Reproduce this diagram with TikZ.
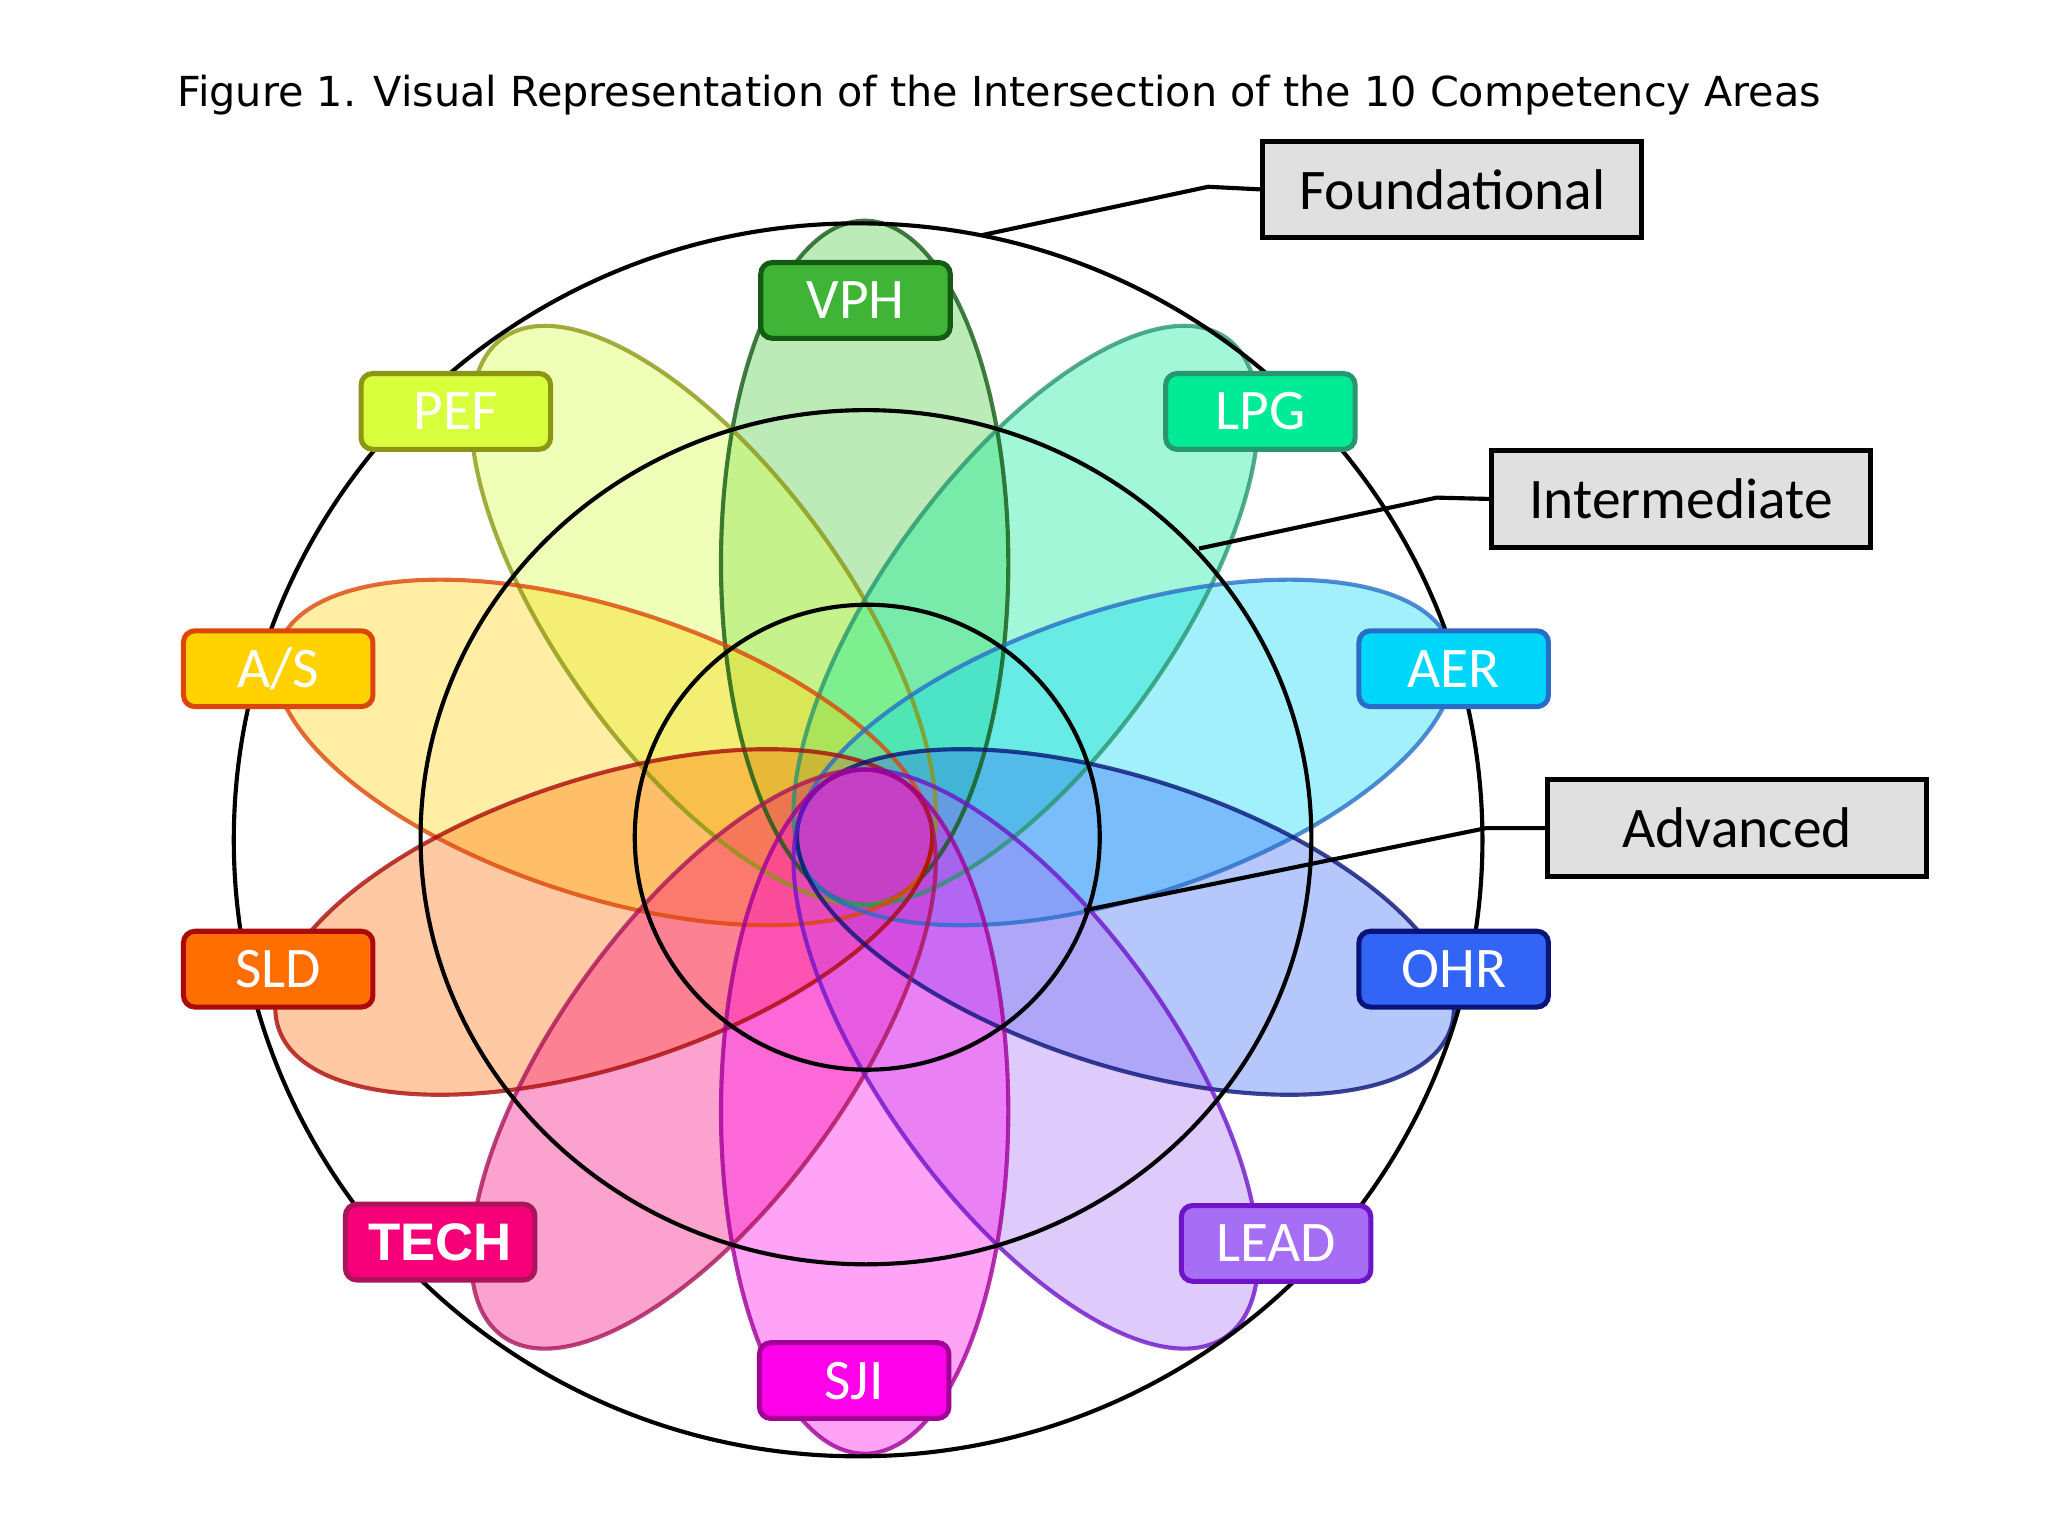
\documentclass[tikz,border=0pt]{standalone}
\usepackage{fontspec}
\usetikzlibrary{calc}
\setmainfont{Carlito}
\newfontfamily\titlefont{DejaVu Sans}
\newfontfamily\boldsans{Liberation Sans}
\begin{document}
\begin{tikzpicture}[x=0.01cm,y=-0.01cm,
  lbl/.style={rounded corners=2.5pt,line width=1.1pt,minimum width=1.45cm,minimum height=0.58cm,text=white,font=\fontsize{12.5}{14}\selectfont,inner sep=0pt},
  lvl/.style={draw=black,line width=1.1pt,fill=black!12,minimum width=2.9cm,minimum height=0.74cm,font=\fontsize{12.5}{15}\selectfont,inner sep=0pt},
  ring/.style={draw=black,line width=0.9pt},
  lead/.style={draw=black,line width=0.9pt}]
\useasboundingbox (0,0) rectangle (1568,1176);
\fill[white] (0,0) rectangle (1568,1176);
\definecolor{cVPH}{RGB}{70,200,60}\definecolor{dVPH}{RGB}{20,90,20}
\definecolor{cPEF}{RGB}{215,255,60}\definecolor{dPEF}{RGB}{140,150,20}
\definecolor{cLPG}{RGB}{0,235,150}\definecolor{dLPG}{RGB}{40,150,110}
\definecolor{cAER}{RGB}{0,215,250}\definecolor{dAER}{RGB}{40,110,200}
\definecolor{cOHR}{RGB}{50,100,245}\definecolor{dOHR}{RGB}{10,20,120}
\definecolor{cLEAD}{RGB}{165,110,245}\definecolor{dLEAD}{RGB}{110,20,200}
\definecolor{cSJI}{RGB}{255,0,235}\definecolor{dSJI}{RGB}{160,0,150}
\definecolor{cTECH}{RGB}{245,0,120}\definecolor{dTECH}{RGB}{170,20,90}
\definecolor{cSLD}{RGB}{255,110,0}\definecolor{dSLD}{RGB}{170,10,10}
\definecolor{cAS}{RGB}{255,210,0}\definecolor{dAS}{RGB}{220,70,10}
\coordinate (C) at (662,641);
\foreach \a/\c in {90/VPH,126/PEF,54/LPG,162/AS,18/AER,-162/SLD,-18/OHR,-126/TECH,-54/LEAD,-90/SJI}{
  \fill[c\c,fill opacity=0.36] ($(C)+(-\a:210)$) ellipse[x radius=110,y radius=262,rotate=\a-90];
}
\foreach \a/\c in {90/VPH,126/PEF,54/LPG,162/AS,18/AER,-162/SLD,-18/OHR,-126/TECH,-54/LEAD,-90/SJI}{
  \draw[d\c,line width=0.9pt,opacity=0.8] ($(C)+(-\a:210)$) ellipse[x radius=110,y radius=262,rotate=\a-90];
}
\draw[ring] (657,643) ellipse[x radius=478,y radius=472];
\draw[ring] (663,641) ellipse[x radius=341,y radius=327];
\draw[ring] (664,641) circle[radius=178];
\node[font=\titlefont\fontsize{9}{10}\selectfont] (title) at (765,73) {Figure 1. Visual Representation of the Intersection of the 10 Competency Areas};
\node[lbl,fill=cVPH!90!black,draw=dVPH] (vph) at (655,230) {VPH};
\node[lbl,fill=cPEF,draw=dPEF] (pef) at (349,315) {PEF};
\node[lbl,fill=cLPG,draw=dLPG] (lpg) at (965,315) {LPG};
\node[lbl,fill=cAS,draw=dAS] (as) at (213,512) {A/S};
\node[lbl,fill=cAER,draw=dAER] (aer) at (1113,512) {AER};
\node[lbl,fill=cSLD,draw=dSLD] (sld) at (213,742) {SLD};
\node[lbl,fill=cOHR,draw=dOHR] (ohr) at (1113,742) {OHR};
\node[lbl,fill=cTECH,draw=dTECH,font=\boldsans\bfseries\fontsize{11.5}{14}\selectfont] (tech) at (337,951) {TECH};
\node[lbl,fill=cLEAD,draw=dLEAD] (lead) at (977,952) {LEAD};
\node[lbl,fill=cSJI,draw=dSJI] (sji) at (654,1057) {SJI};
\node[lvl] (found) at (1112,145) {Foundational};
\node[lvl] (inter) at (1287,382) {Intermediate};
\node[lvl] (adv) at (1330,634) {Advanced};
\coordinate (f0) at (752,180);
\coordinate (i0) at (918,420);
\coordinate (a0) at (830,697);
\draw[lead] (f0) -- (925,143) -- (found.west);
\draw[lead] (i0) -- (1100,381) -- (inter.west);
\draw[lead] (a0) -- (1138,634) -- (adv.west);
\end{tikzpicture}
\end{document}
